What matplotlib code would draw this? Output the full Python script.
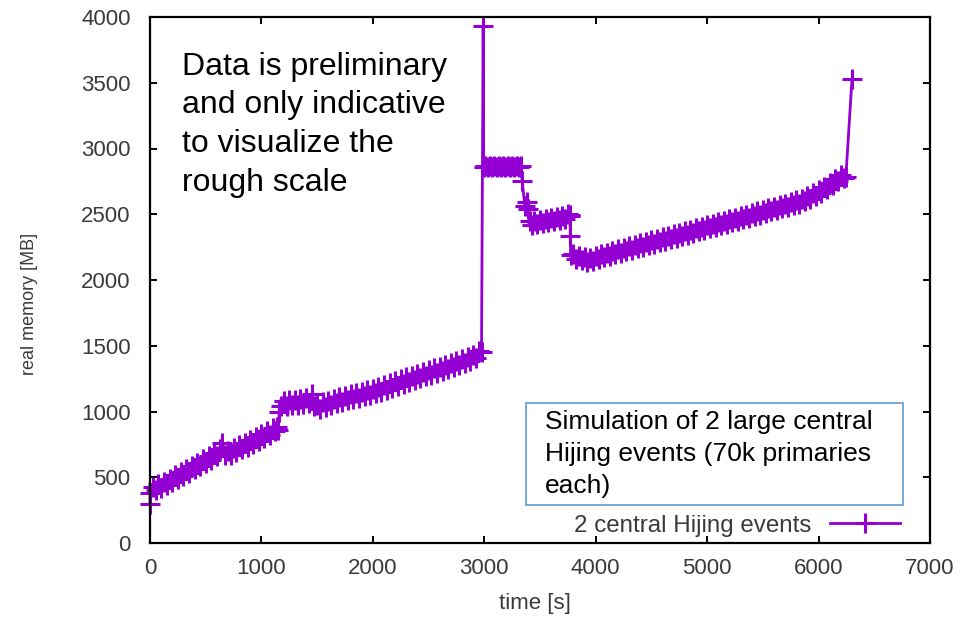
import numpy as np
import matplotlib
matplotlib.use("Agg")
import matplotlib.pyplot as plt
from matplotlib.patches import Rectangle

plt.rcParams['font.family'] = ['Liberation Sans', 'DejaVu Sans']

PURPLE = "#9400d3"
TICK_GRAY = "#3a3a3a"

# memory trace (the band jitters up and down), by phase
# phase 1a: first event, 0 .. 1180 s
t_ev1 = [0, 0, 25, 50, 75, 100, 125, 150, 175, 200, 225, 250, 275, 300, 325, 350,
         375, 400, 425, 450, 475, 500, 525, 550, 575, 600, 625, 650, 675, 700,
         725, 750, 775, 800, 825, 850, 875, 900, 925, 950, 975, 1000, 1025, 1050,
         1075, 1100, 1125, 1140, 1150, 1160, 1180]
m_ev1 = [300, 380, 428, 400, 445, 415, 467, 440, 490, 463, 515, 487, 539, 511, 563, 535,
         587, 560, 612, 584, 636, 609, 661, 633, 685, 660, 712, 760, 670, 700,
         670, 721, 691, 742, 712, 763, 733, 784, 754, 805, 777, 829, 801, 853,
         824, 876, 848, 880, 860, 1000, 1040]

# phase 1b: 1200 .. 2975 s
t_ev1b = [1200, 1225, 1250, 1275, 1300, 1325, 1350, 1375, 1400, 1425, 1450, 1475,
          1500, 1525, 1550, 1575, 1600, 1625, 1650, 1675, 1700, 1725, 1750, 1775,
          1800, 1825, 1850, 1875, 1900, 1925, 1950, 1975, 2000, 2025, 2050, 2075,
          2100, 2125, 2150, 2175, 2200, 2225, 2250, 2275, 2300, 2325, 2350, 2375,
          2400, 2425, 2450, 2475, 2500, 2525, 2550, 2575, 2600, 2625, 2650, 2675,
          2700, 2725, 2750, 2775, 2800, 2825, 2850, 2875, 2900, 2925, 2950, 2975]
m_ev1b = [1080, 1042, 1085, 1047, 1090, 1052, 1095, 1057, 1100, 1065, 1130, 1045,
          1050, 1017, 1070, 1037, 1083, 1050, 1097, 1063, 1110, 1075, 1120, 1085,
          1130, 1095, 1140, 1105, 1150, 1115, 1160, 1125, 1170, 1137, 1185, 1152,
          1200, 1167, 1215, 1182, 1230, 1197, 1245, 1212, 1260, 1227, 1273, 1240,
          1287, 1253, 1300, 1267, 1313, 1280, 1327, 1293, 1340, 1308, 1355, 1323,
          1370, 1338, 1385, 1353, 1400, 1368, 1415, 1383, 1430, 1405, 1460, 1450]

# phase 2: spike, plateau and the two drops
t_peak = [2990, 2995, 3010, 3030, 3050, 3070, 3090, 3110, 3130,
          3150, 3170, 3190, 3210, 3230, 3250, 3270, 3290, 3310, 3330, 3340,
          3365, 3380, 3395]
m_peak = [3930, 2860, 2870, 2860, 2870, 2860, 2870, 2860, 2870,
          2860, 2870, 2860, 2870, 2860, 2870, 2860, 2870, 2860, 2865, 2750,
          2560, 2590, 2540]

t_mid = [3410, 3425, 3450, 3475, 3500, 3525, 3550, 3575, 3600, 3625, 3650, 3675,
         3700, 3725, 3750, 3765, 3770, 3772, 3775]
m_mid = [2445, 2418, 2450, 2425, 2458, 2432, 2465, 2440, 2472, 2447, 2480, 2455,
         2487, 2462, 2500, 2490, 2495, 2335, 2190]

# phase 3: second event, slow growth then the final rise
t_ev2 = [3800, 3825, 3850, 3875, 3900, 3925, 3950, 3975, 4000, 4025, 4050, 4075,
         4100, 4125, 4150, 4175, 4200, 4225, 4250, 4275, 4300, 4325, 4350, 4375,
         4400, 4425, 4450, 4475, 4500, 4525, 4550, 4575, 4600, 4625, 4650, 4675,
         4700, 4725, 4750, 4775, 4800, 4825, 4850, 4875, 4900, 4925, 4950, 4975,
         5000, 5025, 5050, 5075, 5100, 5125, 5150, 5175, 5200, 5225, 5250, 5275,
         5300, 5325, 5350, 5375, 5400, 5425, 5450, 5475, 5500, 5525, 5550, 5575,
         5600, 5625, 5650, 5675, 5700, 5725, 5750, 5775, 5800, 5825, 5850, 5875,
         5900, 5925, 5950, 5975, 6000, 6025, 6050, 6075, 6100, 6125, 6150, 6175,
         6200, 6225, 6245, 6300]
m_ev2 = [2195, 2160, 2185, 2150, 2175, 2140, 2165, 2142, 2180, 2160, 2197, 2173,
         2209, 2185, 2220, 2196, 2232, 2208, 2243, 2219, 2255, 2231, 2266, 2242,
         2278, 2254, 2290, 2265, 2301, 2277, 2313, 2288, 2324, 2300, 2336, 2312,
         2347, 2323, 2359, 2335, 2370, 2346, 2382, 2358, 2393, 2369, 2405, 2381,
         2417, 2392, 2428, 2404, 2440, 2415, 2451, 2427, 2463, 2439, 2474, 2450,
         2486, 2462, 2497, 2473, 2509, 2485, 2521, 2496, 2532, 2508, 2545, 2521,
         2557, 2533, 2569, 2545, 2581, 2557, 2593, 2569, 2605, 2581, 2619, 2599,
         2639, 2619, 2659, 2639, 2681, 2665, 2709, 2694, 2738, 2722, 2767, 2751,
         2795, 2775, 2785, 3530]

time_s = np.array(t_ev1 + t_ev1b + t_peak + t_mid + t_ev2, float)
mem_mb = np.array(m_ev1 + m_ev1b + m_peak + m_mid + m_ev2, float)

fig = plt.figure(figsize=(9.65, 6.17), dpi=100)
ax = fig.add_axes([150 / 965, 1 - 543 / 617, 780 / 965, 526 / 617])

ax.plot(time_s, mem_mb, color=PURPLE, lw=2.0, marker="+", ms=14,
        mew=2.2, label="2 central Hijing events", clip_on=False)

ax.set_xlim(0, 7000)
ax.set_ylim(0, 4000)
ax.set_xticks(np.arange(0, 7001, 1000))
ax.set_yticks(np.arange(0, 4001, 500))
ax.tick_params(direction="in", top=True, right=True, length=5, width=1.4,
               labelsize=16, labelcolor=TICK_GRAY)
ax.tick_params(axis="x", pad=11)
ax.tick_params(axis="y", pad=14)
for s in ax.spines.values():
    s.set_linewidth(1.6)

fig.text(535 / 965, 1 - 604 / 617, "time [s]", ha="center", va="center",
         fontsize=16, color=TICK_GRAY)
fig.text(30 / 965, 1 - 304 / 617, "real memory [MB]", ha="center", va="center",
         rotation=90, fontsize=13, color=TICK_GRAY)

leg = ax.legend(loc="lower right", bbox_to_anchor=(0.962, 0.012), frameon=False,
                markerfirst=False, handlelength=2.9, handletextpad=0.8,
                borderpad=0, borderaxespad=0, fontsize=17.4)
for txt in leg.get_texts():
    txt.set_color(TICK_GRAY)

# annotation box
ax.add_patch(Rectangle((0.482, 0.0722), 0.483, 0.194, transform=ax.transAxes,
                       fill=False, edgecolor="#5b9bd5", lw=1.2, zorder=3))
ax.text(0.506, 0.253, "Simulation of 2 large central\nHijing events (70k primaries\neach)",
        transform=ax.transAxes, ha="left", va="top", fontsize=19,
        linespacing=1.43, color="black")

ax.text(0.041, 0.934, "Data is preliminary\nand only indicative\nto visualize the\nrough scale",
        transform=ax.transAxes, ha="left", va="top", fontsize=23,
        linespacing=1.375, color="black")

fig.savefig("out.png", dpi=100)
